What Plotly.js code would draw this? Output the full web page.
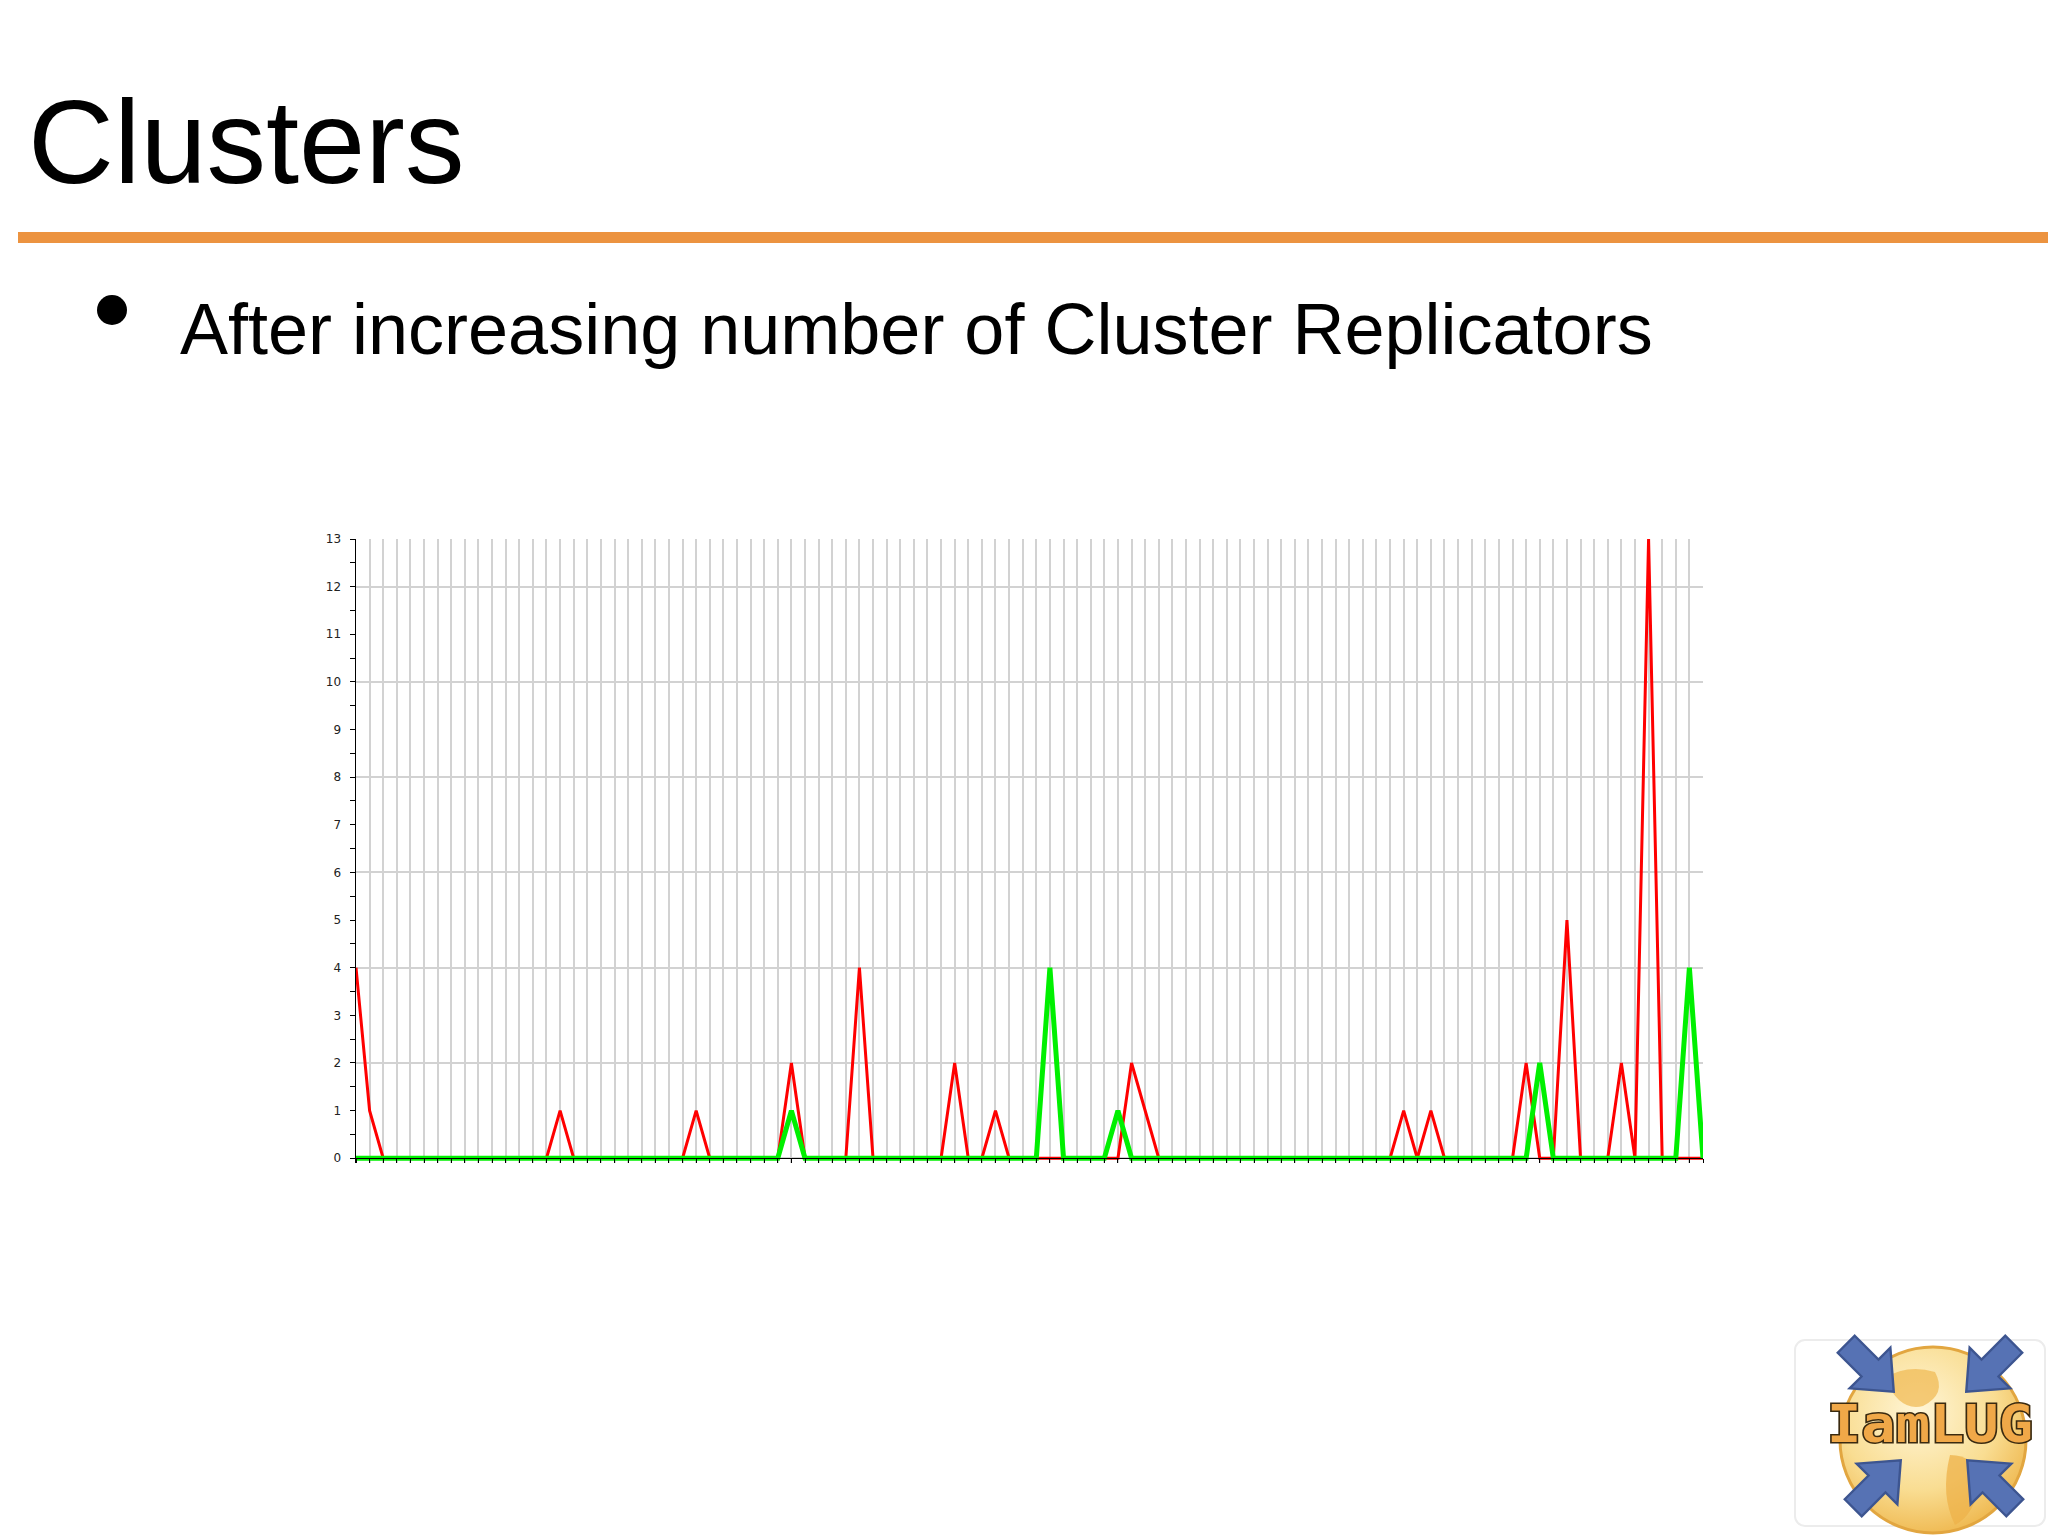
<!DOCTYPE html>
<html>
<head>
<meta charset="utf-8">
<script src="https://cdn.plot.ly/plotly-3.0.1.min.js"></script>
<style>
  html, body { margin: 0; padding: 0; background: #ffffff; }
  #wrap { position: relative; width: 2048px; height: 1536px; overflow: hidden; background: #ffffff; }
  #chart { position: absolute; left: 0; top: 0; width: 2048px; height: 1536px; }
  #slide { position: absolute; left: 0; top: 0; pointer-events: none; }
</style>
</head>
<body>
<div id="wrap">
  <div id="chart"></div>
  <svg id="slide" width="2048" height="1536" xmlns="http://www.w3.org/2000/svg">
    <defs>
      <radialGradient id="globe" cx="0.42" cy="0.35" r="0.7">
        <stop offset="0" stop-color="#fff6d8"/>
        <stop offset="0.6" stop-color="#f9dd92"/>
        <stop offset="1" stop-color="#eeb54a"/>
      </radialGradient>
      <polygon id="arrow" points="-28,-10 0,-10 0,-24 28,0 0,24 0,10 -28,10"/>
    </defs>
    <!-- slide title -->
    <text x="28" y="183" font-family="Liberation Sans, Arial, sans-serif" font-size="119" fill="#000">Clusters</text>
    <!-- orange rule -->
    <rect x="18" y="232" width="2030" height="11" fill="#ec9340"/>
    <!-- bullet -->
    <circle cx="112" cy="310" r="15" fill="#000"/>
    <text x="180" y="354" font-family="Liberation Sans, Arial, sans-serif" font-size="72" fill="#000">After increasing number of Cluster Replicators</text>
    <!-- logo -->
    <rect x="1795" y="1340" width="250" height="186" rx="10" ry="10" fill="none" stroke="#ececec" stroke-width="2"/>
    <circle cx="1933" cy="1440" r="93" fill="url(#globe)" stroke="#e2a640" stroke-width="3"/>
    <path d="M1885 1378 q22 -14 50 -6 q12 22 -12 34 q-24 6 -38 -28 z" fill="#f0b850" opacity="0.7"/>
    <path d="M1950 1455 q25 0 30 25 q-5 35 -25 45 q-15 -30 -5 -70 z" fill="#eeb24a" opacity="0.75"/>
    <g fill="#5672b4" stroke="#3d5590" stroke-width="2">
      <use href="#arrow" transform="translate(1870,1368) rotate(45) scale(1.2)"/>
      <use href="#arrow" transform="translate(1990,1368) rotate(135) scale(1.2)"/>
      <use href="#arrow" transform="translate(1877,1484) rotate(-45) scale(1.2)"/>
      <use href="#arrow" transform="translate(1991,1484) rotate(-135) scale(1.2)"/>
    </g>
    <text x="1827" y="1442" textLength="206" lengthAdjust="spacingAndGlyphs" font-family="DejaVu Sans Mono, monospace" font-weight="bold" font-size="51" fill="#f0a848" stroke="#3a2a10" stroke-width="3" paint-order="stroke">IamLUG</text>
  </svg>
</div>
<script>
// Values (one sample per vertical grid line, 100 samples)
const redSeries = [
  4, 1, 0, 0, 0, 0, 0, 0, 0, 0,
  0, 0, 0, 0, 0, 1, 0, 0, 0, 0,
  0, 0, 0, 0, 0, 1, 0, 0, 0, 0,
  0, 0, 2, 0, 0, 0, 0, 4, 0, 0,
  0, 0, 0, 0, 2, 0, 0, 1, 0, 0,
  0, 0, 0, 0, 0, 0, 0, 2, 1, 0,
  0, 0, 0, 0, 0, 0, 0, 0, 0, 0,
  0, 0, 0, 0, 0, 0, 0, 1, 0, 1,
  0, 0, 0, 0, 0, 0, 2, 0, 0, 5,
  0, 0, 0, 2, 0, 13, 0, 0, 0, 0
];
const greenSeries = [
  0, 0, 0, 0, 0, 0, 0, 0, 0, 0,
  0, 0, 0, 0, 0, 0, 0, 0, 0, 0,
  0, 0, 0, 0, 0, 0, 0, 0, 0, 0,
  0, 0, 1, 0, 0, 0, 0, 0, 0, 0,
  0, 0, 0, 0, 0, 0, 0, 0, 0, 0,
  0, 4, 0, 0, 0, 0, 1, 0, 0, 0,
  0, 0, 0, 0, 0, 0, 0, 0, 0, 0,
  0, 0, 0, 0, 0, 0, 0, 0, 0, 0,
  0, 0, 0, 0, 0, 0, 0, 2, 0, 0,
  0, 0, 0, 0, 0, 0, 0, 0, 4, 0
];
const sampleIndex = redSeries.map((_, i) => i);
const yTickValues = [0, 1, 2, 3, 4, 5, 6, 7, 8, 9, 10, 11, 12, 13];
const yTickLabels = ['0', '1', '2', '3', '4', '5', '6', '7', '8', '9', '10', '11', '12', '13'];

const yMin = -0.1, yMax = 13;
const gridColor = '#d2d2d2';

const traces = [
  {
    x: sampleIndex, y: redSeries, type: 'scatter', mode: 'lines',
    line: { color: '#ff0000', width: 3 }, xaxis: 'x', yaxis: 'y', hoverinfo: 'skip'
  },
  {
    x: sampleIndex, y: greenSeries, type: 'scatter', mode: 'lines',
    line: { color: '#00f000', width: 5 }, xaxis: 'x', yaxis: 'y2', hoverinfo: 'skip'
  }
];

const layout = {
  width: 2048, height: 1536,
  margin: { l: 356, r: 345, t: 539, b: 373, pad: 0 },
  paper_bgcolor: '#ffffff', plot_bgcolor: '#ffffff',
  showlegend: false,
  font: { family: 'DejaVu Sans, Verdana, sans-serif', size: 12, color: '#222222' },
  xaxis: {
    range: [0, sampleIndex.length - 1],
    tickmode: 'linear', tick0: 0, dtick: 1,
    showticklabels: false,
    ticks: 'outside', ticklen: 4, tickwidth: 1, tickcolor: '#000000',
    showgrid: true, gridcolor: gridColor, gridwidth: 2,
    showline: true, linecolor: '#000000', linewidth: 1,
    zeroline: false,
    anchor: 'free', position: (0 - yMin) / (yMax - yMin)
  },
  yaxis: {
    range: [yMin, yMax],
    tickmode: 'array', tickvals: yTickValues, ticktext: yTickLabels,
    ticks: 'outside', ticklen: 5, tickwidth: 1, tickcolor: '#000000',
    ticklabelstandoff: 6,
    minor: { tickmode: 'linear', tick0: 0, dtick: 0.5, ticks: 'outside', ticklen: 5, tickwidth: 1, tickcolor: '#000000', showgrid: false },
    showgrid: false, zeroline: false,
    showline: true, linecolor: '#000000', linewidth: 1.5,
    anchor: 'x'
  },
  yaxis2: {
    range: [yMin, yMax], overlaying: 'y', side: 'left', anchor: 'x',
    tickmode: 'linear', tick0: 0, dtick: 2,
    showticklabels: false, ticks: '',
    showgrid: true, gridcolor: gridColor, gridwidth: 2,
    showline: false, zeroline: false
  }
};

Plotly.newPlot('chart', traces, layout, { staticPlot: true, displayModeBar: false });
</script>
</body>
</html>
